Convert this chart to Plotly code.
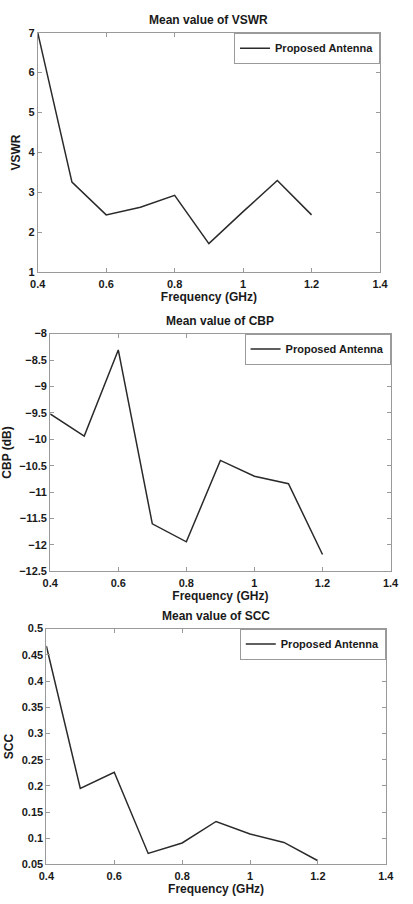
import plotly.graph_objects as go

freq = [0.4, 0.5, 0.6, 0.7, 0.8, 0.9, 1.0, 1.1, 1.2]
vswr = [7.0, 3.26, 2.44, 2.63, 2.93, 1.72, 2.52, 3.30, 2.44]
cbp = [-9.52, -9.94, -8.31, -11.60, -11.94, -10.40, -10.70, -10.84, -12.18]
scc = [0.467, 0.195, 0.226, 0.071, 0.091, 0.132, 0.108, 0.092, 0.057]

titles = ["Mean value of VSWR", "Mean value of CBP", "Mean value of SCC"]
ylabels = ["VSWR", "CBP (dB)", "SCC"]
series_name = "Proposed Antenna"
xticks = [0.4, 0.6, 0.8, 1.0, 1.2, 1.4]
xticktext = ["0.4", "0.6", "0.8", "1", "1.2", "1.4"]
yticks_vswr = [1, 2, 3, 4, 5, 6, 7]
yticks_cbp = [-12.5, -12, -11.5, -11, -10.5, -10, -9.5, -9, -8.5, -8]
yticks_scc = [0.05, 0.1, 0.15, 0.2, 0.25, 0.3, 0.35, 0.4, 0.45, 0.5]

W, H = 413, 904
# pixel boxes: (left, right, top, bottom)
boxes = [(31, 388, 27, 270), (44, 399, 332, 573), (40, 394, 631, 870)]

FONT = "Liberation Sans"
TXT = "#1a1a1a"
FRAME = "#9a9a9a"

fig = go.Figure()
data = [vswr, cbp, scc]
ranges = [[1, 7], [-12.5, -8], [0.05, 0.5]]
ytick_sets = [yticks_vswr, yticks_cbp, yticks_scc]

for i in range(3):
    l, r, t, b = boxes[i]
    xd = [l / W, r / W]
    yd = [1 - b / H, 1 - t / H]
    suffix = "" if i == 0 else str(i + 1)
    fig.add_trace(go.Scatter(
        x=freq, y=data[i], mode="lines", name=series_name,
        line=dict(color="#2a2a2a", width=1.5),
        xaxis="x" + suffix, yaxis="y" + suffix,
        legend="legend" + suffix, showlegend=True,
    ))
    ax = dict(
        domain=xd, range=[0.4, 1.4], tickvals=xticks, ticktext=xticktext,
        ticks="inside", ticklen=4, tickcolor=FRAME, showline=True, linecolor=FRAME,
        linewidth=1, mirror="allticks", showgrid=False, zeroline=False,
        anchor="y" + suffix, ticklabelstandoff=1,
        tickfont=dict(family=FONT, size=11, color=TXT, weight="bold"),
        title=dict(text="Frequency (GHz)", standoff=3,
                   font=dict(family=FONT, size=12, color=TXT, weight="bold")),
    )
    ay = dict(
        domain=yd, range=ranges[i], tickvals=ytick_sets[i],
        ticks="inside", ticklen=4, tickcolor=FRAME, showline=True, linecolor=FRAME,
        linewidth=1, mirror="allticks", showgrid=False, zeroline=False,
        anchor="x" + suffix,
        tickfont=dict(family=FONT, size=11, color=TXT, weight="bold"),
        title=dict(text=ylabels[i], standoff=5,
                   font=dict(family=FONT, size=12, color=TXT, weight="bold")),
    )
    fig.update_layout({"xaxis" + suffix: ax, "yaxis" + suffix: ay})
    fig.update_layout({"legend" + suffix: dict(
        x=xd[1], y=yd[1], xanchor="right", yanchor="top",
        bgcolor="white", bordercolor=FRAME, borderwidth=1,
        font=dict(family=FONT, size=11, color=TXT, weight="bold"),
        itemwidth=30, tracegroupgap=0,
    )})
    fig.add_annotation(
        x=(xd[0] + xd[1]) / 2, y=yd[1], xref="paper", yref="paper",
        text=titles[i], showarrow=False, yanchor="bottom", yshift=4,
        font=dict(family=FONT, size=12, color=TXT, weight="bold"),
    )

fig.update_layout(
    width=W, height=H, margin=dict(l=0, r=0, t=0, b=0),
    paper_bgcolor="white", plot_bgcolor="white",
)

fig.write_html("out.html")
